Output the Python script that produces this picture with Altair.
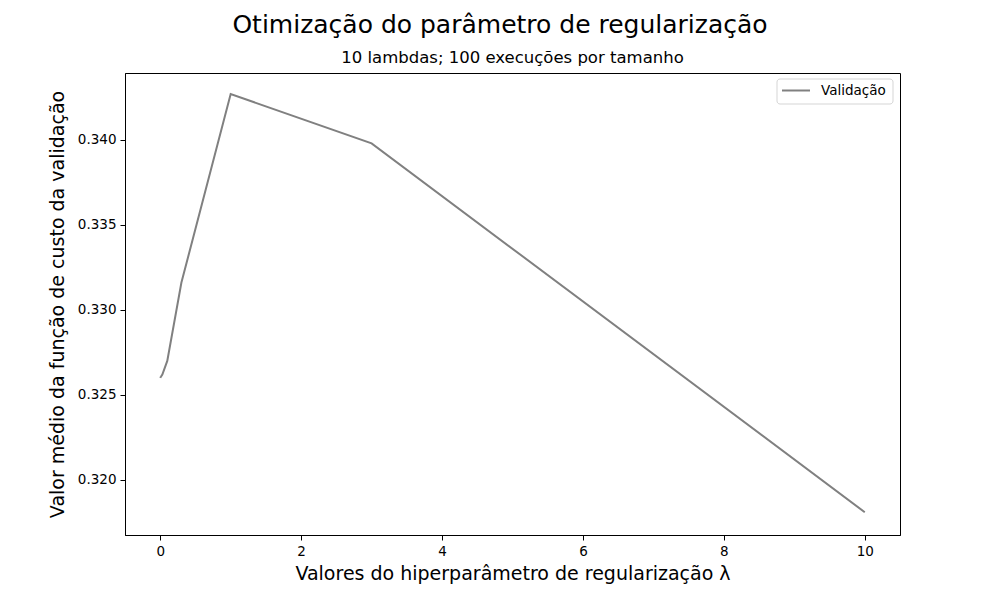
import altair as alt
import pandas as pd

lambdas = [0, 0.001, 0.003, 0.01, 0.03, 0.1, 0.3, 1, 3, 10]
custo_validacao = [0.3260, 0.32601, 0.32603, 0.32607, 0.3262, 0.3270, 0.3316, 0.3427, 0.3398, 0.3181]
serie = ["Validação"] * len(lambdas)

df = pd.DataFrame({"lambda": lambdas, "custo": custo_validacao, "serie": serie})
leg = pd.DataFrame({"serie": ["Validação"]})

W, H = 775, 462
font = "DejaVu Sans"
cor = "#808080"

line = alt.Chart(df).mark_line(strokeWidth=2, color=cor).encode(
    x=alt.X("lambda:Q",
            scale=alt.Scale(domain=[-0.5, 10.5], nice=False, zero=False),
            axis=alt.Axis(values=[0, 2, 4, 6, 8, 10], format="d",
                          title="Valores do hiperparâmetro de regularização λ",
                          titleFontSize=19, titleFontWeight="normal", titleFont=font,
                          titlePadding=7, labelFontSize=13.5, labelFont=font,
                          labelPadding=4, tickSize=5, grid=False,
                          domainColor="black", tickColor="black", labelColor="black",
                          titleColor="black")),
    y=alt.Y("custo:Q",
            scale=alt.Scale(domain=[0.31676, 0.34394], nice=False, zero=False),
            axis=alt.Axis(values=[0.320, 0.325, 0.330, 0.335, 0.340], format=".3f",
                          title="Valor médio da função de custo da validação",
                          titleFontSize=19, titleFontWeight="normal", titleFont=font,
                          titlePadding=10, labelFontSize=13.5, labelFont=font,
                          labelPadding=4, tickSize=5, grid=False,
                          domainColor="black", tickColor="black", labelColor="black",
                          titleColor="black")),
    detail="serie:N",
)

leg_box = alt.Chart(leg).mark_rect(fill="white", stroke="#d5d5d5", strokeWidth=1,
                                   cornerRadius=3).encode(
    x=alt.value(652), x2=alt.value(768), y=alt.value(6), y2=alt.value(31))
leg_line = alt.Chart(leg).mark_rule(color=cor, strokeWidth=2).encode(
    x=alt.value(657), x2=alt.value(685), y=alt.value(17.5))
leg_text = alt.Chart(leg).mark_text(fontSize=13.5, font=font, align="left",
                                    baseline="middle", color="black").encode(
    text="serie:N", x=alt.value(696), y=alt.value(18))

suptitle = alt.Chart(pd.DataFrame({"t": ["Otimização do parâmetro de regularização"]})).mark_text(
    fontSize=25, font=font, align="center", baseline="middle", color="black"
).encode(text="t:N", x=alt.value(375), y=alt.value(-48))

subtitle = alt.Chart(pd.DataFrame({"t": ["10 lambdas; 100 execuções por tamanho"]})).mark_text(
    fontSize=16.5, font=font, align="center", baseline="middle", color="black"
).encode(text="t:N", x=alt.value(W / 2), y=alt.value(-15))

chart = alt.layer(line, leg_box, leg_line, leg_text, suptitle, subtitle).properties(
    width=W, height=H,
    autosize=alt.AutoSizeParams(type="none"),
    padding={"left": 125, "top": 73, "right": 100, "bottom": 65},
).configure(background="white").configure_view(stroke="black", strokeWidth=1)

chart.save("out.html", embed_options={"renderer": "svg", "actions": False})
